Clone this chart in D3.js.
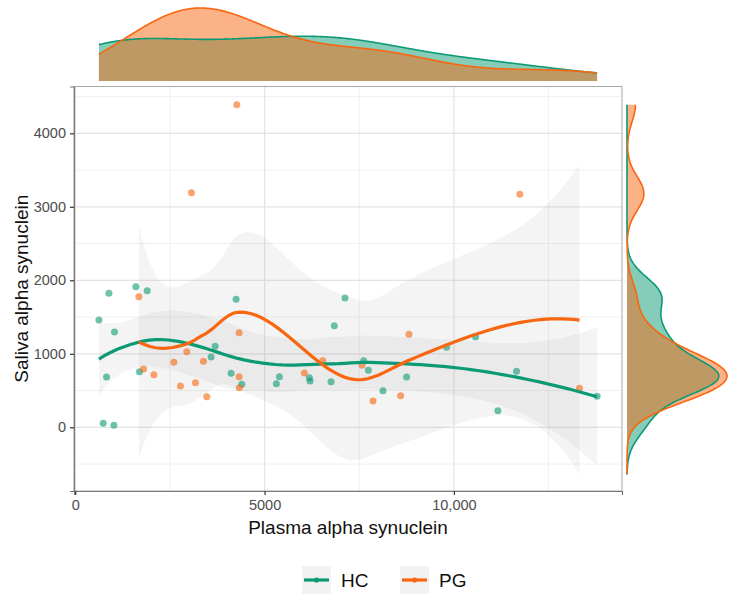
<!DOCTYPE html>
<html>
<head>
<meta charset="utf-8">
<script src="https://cdn.jsdelivr.net/npm/d3@7"></script>
<style>
  html, body { margin: 0; padding: 0; background: #ffffff; }
  svg { display: block; font-family: "Liberation Sans", Arial, sans-serif; }
</style>
</head>
<body>
<svg id="chart" width="734" height="600"></svg>
<script>
// ---------------- data ----------------
const groups = ["HC", "PG"];
const groupColors = ["#0c9a74", "#f8660f"];

const hcX = [625, 739, 826, 889, 1021, 1037, 1601, 1697, 1900, 3588, 3694, 4116, 4248, 4398, 5311,
             5391, 6182, 6201, 6755, 6842, 7124, 7617, 7740, 8127, 8751, 9807, 10572, 11161, 11654, 13781];
const hcY = [1460, 54, 684, 1823, 27, 1297, 1913, 757, 1858, 956, 1102, 735, 1741, 585, 593,
             688, 675, 630, 621, 1382, 1759, 906, 775, 498, 684, 1088, 1229, 226, 762, 422];

const pgX = [1680, 1803, 2076, 2604, 2779, 2946, 3069, 3175, 3386, 3474, 4266, 4327, 4327, 4335,
             6050, 6535, 7573, 7863, 8593, 8813, 11741, 13316];
const pgY = [1777, 793, 716, 884, 562, 1029, 3192, 607, 898, 417, 4389, 1287, 688, 539,
             739, 906, 843, 358, 430, 1265, 3170, 531];

const xTicks = [0, 5000, 10000];
const xTickLabels = ["0", "5000", "10,000"];
const xMinor = [2500, 7500, 12500];
const yTicks = [0, 1000, 2000, 3000, 4000];
const yTickLabels = ["0", "1000", "2000", "3000", "4000"];
const yMinor = [-500, 500, 1500, 2500, 3500, 4500];
const xTitle = "Plasma alpha synuclein";
const yTitle = "Saliva alpha synuclein";

// ---------------- statistics: loess (span .75, degree 2, kd-tree interpolation) + se ----------------
function inv3(m) {
  const [a, b, c] = m[0], [d, e, f] = m[1], [g, h, i] = m[2];
  const A = e * i - f * h, B = -(d * i - f * g), C = d * h - e * g;
  const det = a * A + b * B + c * C;
  return [
    [A / det, -(b * i - c * h) / det, (b * f - c * e) / det],
    [B / det, (a * i - c * g) / det, -(a * f - c * d) / det],
    [C / det, -(a * h - b * g) / det, (a * e - b * d) / det]
  ];
}
// local quadratic at x0: returns operator rows for value and slope
function localOp(xs, x0, q) {
  const dist = xs.map(x => Math.abs(x - x0));
  const hsorted = dist.slice().sort((a, b) => a - b);
  const hh = hsorted[Math.min(q, xs.length) - 1] * 1.0000001;
  const w = dist.map(d => { const u = d / hh; return u < 1 ? Math.pow(1 - u * u * u, 3) : 0; });
  const M = [[0, 0, 0], [0, 0, 0], [0, 0, 0]];
  const vs = xs.map((x, k) => { const u = (x - x0) / hh; const v = [1, u, u * u];
    for (let r = 0; r < 3; r++) for (let c = 0; c < 3; c++) M[r][c] += w[k] * v[r] * v[c];
    return v; });
  const I = inv3(M);
  const val = vs.map((v, k) => w[k] * (I[0][0] * v[0] + I[0][1] * v[1] + I[0][2] * v[2]));
  const slope = vs.map((v, k) => w[k] * (I[1][0] * v[0] + I[1][1] * v[1] + I[1][2] * v[2]) / hh);
  return { val, slope };
}
function kdVertices(xs, fc) {
  const s = xs.slice().sort((a, b) => a - b);
  const [lo, hi] = [s[0], s[s.length - 1]];
  const mu = 0.005 * Math.max(hi - lo, 1e-10);
  const verts = [lo - mu, hi + mu];
  function split(l, u, vlo, vhi) {          // 1-based inclusive indices
    if (u - l + 1 <= fc) return;
    let m = Math.floor((l + u) / 2);
    let off = 0;
    while (m + off < u && m + off >= l) {
      if (s[m + off - 1] === s[m + off]) { off = -off; if (off >= 0) off += 1; }
      else { m = m + off; break; }
    }
    const xi = s[m - 1];
    if (xi === vlo || xi === vhi) return;
    verts.push(xi);
    split(l, m, vlo, xi);
    split(m + 1, u, xi, vhi);
  }
  split(1, s.length, verts[0], verts[1]);
  return verts.sort((a, b) => a - b);
}
function makeInterp(xs, span) {
  const n = xs.length, q = Math.floor(n * span);
  const fc = Math.floor(n * span * 0.2);
  const verts = kdVertices(xs, fc);
  const ops = verts.map(v => localOp(xs, v, q));
  return function (x0) {
    let j = 0; while (j < verts.length - 2 && x0 > verts[j + 1]) j++;
    const v0 = verts[j], v1 = verts[j + 1], h = v1 - v0, t = (x0 - v0) / h;
    const h00 = 2 * t ** 3 - 3 * t ** 2 + 1, h10 = t ** 3 - 2 * t ** 2 + t,
          h01 = -2 * t ** 3 + 3 * t ** 2, h11 = t ** 3 - t ** 2;
    const A = ops[j], B = ops[j + 1];
    return A.val.map((_, k) => h00 * A.val[k] + h10 * h * A.slope[k] + h01 * B.val[k] + h11 * h * B.slope[k]);
  };
}
function qt975(df) {
  const z = 1.959963985;
  const z3 = z ** 3, z5 = z ** 5, z7 = z ** 7, z9 = z ** 9;
  const g1 = (z3 + z) / 4, g2 = (5 * z5 + 16 * z3 + 3 * z) / 96,
        g3 = (3 * z7 + 19 * z5 + 17 * z3 - 15 * z) / 384,
        g4 = (79 * z9 + 776 * z7 + 1482 * z5 - 1920 * z3 - 945 * z) / 92160;
  return z + g1 / df + g2 / df ** 2 + g3 / df ** 3 + g4 / df ** 4;
}
function loess(xs, ys, span) {
  const n = xs.length;
  const op = makeInterp(xs, span);
  const L = xs.map(x0 => op(x0));
  const fitted = L.map(l => d3.sum(l, (v, k) => v * ys[k]));
  const res = ys.map((yv, k) => yv - fitted[k]);
  const IL = L.map((row, r) => row.map((v, c) => (r === c ? 1 : 0) - v));
  const Mx = [];
  for (let r = 0; r < n; r++) { Mx.push([]); for (let c = 0; c < n; c++) {
    let s = 0; for (let k = 0; k < n; k++) s += IL[k][r] * IL[k][c]; Mx[r].push(s); } }
  let d1 = 0, d2 = 0;
  for (let r = 0; r < n; r++) { d1 += Mx[r][r]; for (let c = 0; c < n; c++) d2 += Mx[r][c] * Mx[c][r]; }
  const s = Math.sqrt(d3.sum(res, r => r * r) / d1);
  const tq = qt975(d1 * d1 / d2);
  const [lo, hi] = d3.extent(xs);
  const out = [];
  for (let j = 0; j < 80; j++) {
    const x0 = lo + (hi - lo) * j / 79;
    const l = op(x0);
    const f = d3.sum(l, (v, k) => v * ys[k]);
    const se = s * Math.sqrt(d3.sum(l, v => v * v));
    out.push({ x: x0, y: f, lo: f - tq * se, hi: f + tq * se });
  }
  return out;
}
function bwNrd0(v) {
  const s = d3.deviation(v), sorted = v.slice().sort(d3.ascending);
  const iqr = d3.quantile(sorted, 0.75) - d3.quantile(sorted, 0.25);
  let lo = Math.min(s, iqr / 1.34); if (!(lo > 0)) lo = s;
  return 0.9 * lo * Math.pow(v.length, -0.2);
}
function kde(v, from, to) {
  const h = bwNrd0(v), n = v.length, out = [];
  for (let j = 0; j < 512; j++) {
    const t = from + (to - from) * j / 511;
    let s = 0; for (const xi of v) { const u = (t - xi) / h; s += Math.exp(-0.5 * u * u); }
    out.push({ t, d: s / (n * h * Math.sqrt(2 * Math.PI)) });
  }
  return out;
}

// ---------------- layout ----------------
const svg = d3.select("#chart");
const P = { left: 74, right: 622, top: 86.5, bottom: 491 };
const allX = hcX.concat(pgX), allY = hcY.concat(pgY);
const [xmin, xmax] = d3.extent(allX);
const xpad = (xmax - xmin) * 0.05;
const x = d3.scaleLinear().domain([xmin - xpad, xmax + xpad]).range([P.left, P.right]);
const y = d3.scaleLinear().domain([-867, 4637]).range([P.bottom, P.top]);

const series = [
  { name: groups[0], color: groupColors[0], xs: hcX, ys: hcY },
  { name: groups[1], color: groupColors[1], xs: pgX, ys: pgY }
];
series.forEach(s => { s.fit = loess(s.xs, s.ys, 0.75); });

// panel background + grid
const g = svg.append("g");
g.append("rect").attr("x", P.left).attr("y", P.top).attr("width", P.right - P.left)
  .attr("height", P.bottom - P.top).attr("fill", "#fff");
g.selectAll(".ymin").data(yMinor).join("line").attr("x1", P.left).attr("x2", P.right)
  .attr("y1", d => y(d)).attr("y2", d => y(d)).attr("stroke", "#f0f0f0").attr("stroke-width", 1);
g.selectAll(".xmin").data(xMinor).join("line").attr("y1", P.top).attr("y2", P.bottom)
  .attr("x1", d => x(d)).attr("x2", d => x(d)).attr("stroke", "#f0f0f0").attr("stroke-width", 1);
g.selectAll(".ymaj").data(yTicks).join("line").attr("x1", P.left).attr("x2", P.right)
  .attr("y1", d => y(d)).attr("y2", d => y(d)).attr("stroke", "#e3e3e3").attr("stroke-width", 1.2);
g.selectAll(".xmaj").data(xTicks).join("line").attr("y1", P.top).attr("y2", P.bottom)
  .attr("x1", d => x(d)).attr("x2", d => x(d)).attr("stroke", "#e3e3e3").attr("stroke-width", 1.2);

// clip
svg.append("clipPath").attr("id", "clip").append("rect").attr("x", P.left).attr("y", P.top)
  .attr("width", P.right - P.left).attr("height", P.bottom - P.top);
const pg = svg.append("g").attr("clip-path", "url(#clip)");

// ribbons
series.forEach(s => {
  pg.append("path").datum(s.fit)
    .attr("d", d3.area().x(d => x(d.x)).y0(d => y(d.lo)).y1(d => y(d.hi)))
    .attr("fill", "#999999").attr("fill-opacity", 0.11);
});
// points
series.forEach(s => {
  pg.selectAll(null).data(s.xs.map((v, k) => [v, s.ys[k]])).join("circle")
    .attr("cx", d => x(d[0])).attr("cy", d => y(d[1])).attr("r", 3.5)
    .attr("fill", s.color).attr("fill-opacity", 0.6);
});
// smooth lines
series.forEach(s => {
  pg.append("path").datum(s.fit)
    .attr("d", d3.line().x(d => x(d.x)).y(d => y(d.y)))
    .attr("fill", "none").attr("stroke", s.color).attr("stroke-width", 3.2);
});

// panel border
svg.append("rect").attr("x", P.left).attr("y", P.top).attr("width", P.right - P.left)
  .attr("height", P.bottom - P.top).attr("fill", "none").attr("stroke", "#a8a8a8").attr("stroke-width", 1);

// axes
const xAxis = svg.append("g").attr("transform", `translate(0,${P.bottom})`)
  .call(d3.axisBottom(x).tickValues(xTicks).tickFormat((d, i) => xTickLabels[i]).tickSize(4).tickPadding(5));
const yAxis = svg.append("g").attr("transform", `translate(${P.left},0)`)
  .call(d3.axisLeft(y).tickValues(yTicks).tickFormat((d, i) => yTickLabels[i]).tickSize(4).tickPadding(4));
[xAxis, yAxis].forEach(a => {
  a.select(".domain").attr("stroke", "#7a7a7a").attr("stroke-width", 1.2);
  a.selectAll(".tick line").attr("stroke", "#333").attr("stroke-width", 1.2);
  a.selectAll(".tick text").attr("fill", "#4d4d4d").attr("font-size", 14.5)
    .attr("font-family", "Liberation Sans, Arial, sans-serif");
});
svg.append("text").attr("x", (P.left + P.right) / 2).attr("y", 534).attr("text-anchor", "middle")
  .attr("font-size", 19).attr("fill", "#111").text(xTitle);
svg.append("text").attr("transform", `translate(28,${(P.top + P.bottom) / 2}) rotate(-90)`)
  .attr("text-anchor", "middle").attr("font-size", 19).attr("fill", "#111").text(yTitle);

// ---------------- marginal densities ----------------
const topD = series.map(s => kde(s.xs, xmin, xmax));
const yLow = d3.min([d3.min(allY), ...series.map(s => d3.min(s.fit, d => d.lo))]);
const yHigh = d3.max([d3.max(allY), ...series.map(s => d3.max(s.fit, d => d.hi))]);
const rightD = series.map(s => kde(s.ys, yLow, yHigh));
const topMax = d3.max(topD, a => d3.max(a, d => d.d));
const rightMax = d3.max(rightD, a => d3.max(a, d => d.d));
const dTop = d3.scaleLinear().domain([0, topMax]).range([81, 8]);
const dRight = d3.scaleLinear().domain([0, rightMax]).range([627, 727]);

series.forEach((s, k) => {
  svg.append("path").datum(topD[k])
    .attr("d", d3.area().x(d => x(d.t)).y0(dTop(0)).y1(d => dTop(d.d)))
    .attr("fill", s.color).attr("fill-opacity", 0.5);
});
series.forEach((s, k) => {
  svg.append("path").datum(topD[k])
    .attr("d", d3.line().x(d => x(d.t)).y(d => dTop(d.d)))
    .attr("fill", "none").attr("stroke", s.color).attr("stroke-width", 1.6);
});
series.forEach((s, k) => {
  svg.append("path").datum(rightD[k])
    .attr("d", d3.area().y(d => y(d.t)).x0(dRight(0)).x1(d => dRight(d.d)))
    .attr("fill", s.color).attr("fill-opacity", 0.5);
});
series.forEach((s, k) => {
  svg.append("path").datum(rightD[k])
    .attr("d", d3.line().y(d => y(d.t)).x(d => dRight(d.d)))
    .attr("fill", "none").attr("stroke", s.color).attr("stroke-width", 1.6);
});

// ---------------- legend ----------------
const legX = [302, 400];
series.forEach((s, k) => {
  const lg = svg.append("g").attr("transform", `translate(${legX[k]},566)`);
  lg.append("rect").attr("width", 29).attr("height", 28).attr("fill", "#f2f2f2");
  lg.append("line").attr("x1", 2).attr("x2", 27).attr("y1", 14).attr("y2", 14)
    .attr("stroke", s.color).attr("stroke-width", 3.2);
  lg.append("circle").attr("cx", 14.5).attr("cy", 14).attr("r", 2.6).attr("fill", s.color);
  lg.append("text").attr("x", 39).attr("y", 21).attr("font-size", 19).attr("fill", "#111").text(s.name);
});
</script>
</body>
</html>
